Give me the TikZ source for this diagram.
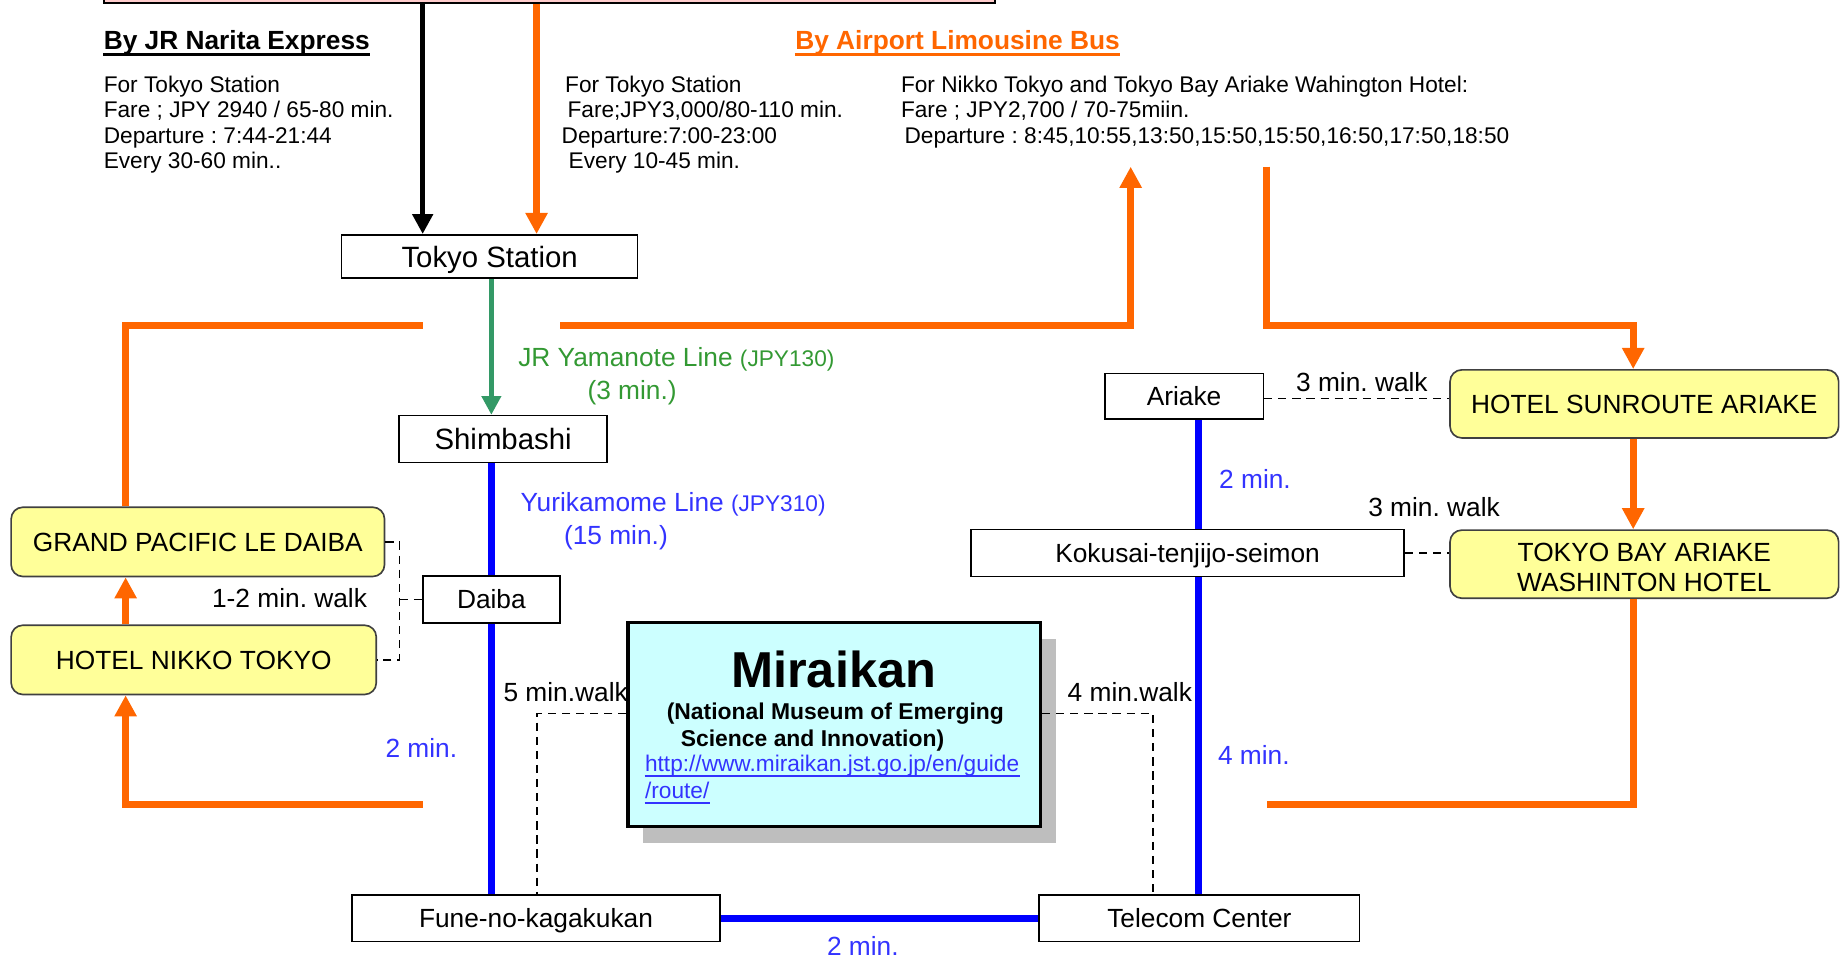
\documentclass[tikz,border=0pt]{standalone}
\usepackage{fontspec}
\setmainfont{Liberation Sans}
\usetikzlibrary{arrows.meta,shadows}
\definecolor{orng}{RGB}{255,102,0}
\definecolor{pinkfill}{RGB}{255,204,204}
\definecolor{hotelfill}{RGB}{255,255,153}
\definecolor{cyanfill}{RGB}{204,255,255}
\definecolor{jrgreen}{RGB}{51,153,102}
\definecolor{jrtext}{RGB}{51,153,51}
\definecolor{ublue}{RGB}{0,0,255}
\definecolor{utext}{RGB}{51,51,255}
\definecolor{shadowgray}{RGB}{190,190,190}
\newcommand{\myfA}{\fontsize{11.2}{13}\selectfont}
\newcommand{\myfB}{\fontsize{9.65}{10.9}\selectfont}
\newcommand{\myfC}{\fontsize{12.5}{14}\selectfont}
\frenchspacing
\begin{document}
\frenchspacing
\begin{tikzpicture}[x=0.5pt,y=-0.5pt,
  box/.style={draw, line width=0.7pt, fill=white, inner sep=0pt, font=\myfA, text height=8pt, text depth=0pt},
  hotel/.style={draw=black!75, line width=0.7pt, fill=hotelfill, rounded corners=5pt, inner sep=0pt, font=\myfA},
  orngline/.style={draw=orng, line width=3pt, line join=miter},
  orngarrow/.style={orngline, -{Triangle[width=9pt,length=9pt]}},
  railblue/.style={draw=ublue, line width=3pt},
  walk/.style={draw, dash pattern=on 3.5pt off 2.5pt, line width=0.6pt},
  lbl/.style={inner sep=0pt, font=\myfA},
  body/.style={inner sep=0pt, font=\myfB, align=left, anchor=north west},
]
\useasboundingbox (0,0) rectangle (1568,816);

% ---------- nodes ----------
\node[draw, line width=0.7pt, fill=pinkfill, minimum width=379.5pt, minimum height=30pt, anchor=south west, inner sep=0pt] (airport) at (88,3) {};
\node[box, font=\myfC, text height=9pt, minimum width=126pt, minimum height=18.5pt] (tokyo) at (417,218.5) {Tokyo Station};
\node[box, font=\myfC, text height=9pt, minimum width=88.5pt, minimum height=20pt] (shimbashi) at (428.5,374) {Shimbashi};
\node[box, minimum width=58.5pt, minimum height=20pt] (daiba) at (418.5,510.5) {Daiba};
\node[hotel, minimum width=159pt, minimum height=29.5pt, text height=8pt, text depth=0pt] (grand) at (168.5,461.5) {GRAND PACIFIC LE DAIBA};
\node[hotel, minimum width=155.5pt, minimum height=29.5pt, text height=8pt, text depth=0pt] (nikko) at (165,562) {HOTEL NIKKO TOKYO};
\node[box, minimum width=156.5pt, minimum height=20pt] (fune) at (456.5,782) {Fune-no-kagakukan};
\node[box, minimum width=136.5pt, minimum height=20pt] (telecom) at (1021.5,782) {Telecom Center};
\node[box, minimum width=67.5pt, minimum height=19.5pt] (ariake) at (1008.5,337.5) {Ariake};
\node[box, minimum width=184.5pt, minimum height=20pt] (kokusai) at (1011.5,471) {Kokusai-tenjijo-seimon};
\node[hotel, minimum width=165.5pt, minimum height=29pt, text height=8pt, text depth=0pt] (sunroute) at (1400.5,344) {HOTEL SUNROUTE ARIAKE};
\node[hotel, minimum width=165.5pt, minimum height=29pt, align=center, font=\fontsize{11.2}{12.8}\selectfont] (tokyobay) at (1400.5,480.5) {\rule{0pt}{11pt}TOKYO BAY ARIAKE\\WASHINTON HOTEL};
\node[draw, line width=1.5pt, fill=cyanfill, minimum width=175.5pt, minimum height=87pt, inner sep=0pt,
  drop shadow={shadow xshift=6.5pt, shadow yshift=-7pt, fill=shadowgray, opacity=1}] (miraikan) at (710.5,617) {};

% Miraikan texts
\node[anchor=base, inner sep=0pt, font=\fontsize{21.5}{24}\selectfont\bfseries] (mtitle) at (710,585.5) {Miraikan};
\node[anchor=base west, inner sep=0pt, font=\fontsize{9.75}{11}\selectfont\bfseries] (msubA) at (567.5,613) {(National Museum of Emerging};
\node[anchor=base west, inner sep=0pt, font=\fontsize{9.75}{11}\selectfont\bfseries] (msubB) at (579.5,636) {Science and Innovation)};
\node[anchor=base west, inner sep=0pt, font=\myfB, text=utext] (murlA) at (549,657) {http://www.miraikan.jst.go.jp/en/guide};
\node[anchor=base west, inner sep=0pt, font=\myfB, text=utext] (murlB) at (549,680) {/route/};
\draw[utext, line width=0.6pt] ([yshift=-2pt]murlA.base west) -- ([yshift=-2pt]murlA.base east);
\draw[utext, line width=0.6pt] ([yshift=-2pt]murlB.base west) -- ([yshift=-2pt]murlB.base east);

% ---------- helper coordinates ----------
\coordinate (cxb) at (360,0);
\coordinate (cxo) at (457,0);
\coordinate (cxg) at (418.5,0);
\coordinate (cxr) at (1021,0);
\coordinate (cxh) at (107,0);
\coordinate (cxd) at (340.5,0);
\coordinate (cxf) at (457.5,0);
\coordinate (cxt) at (982,0);
\coordinate (cxs) at (1391,0);
\coordinate (cym) at (0,607.5);
\coordinate (cya) at (0,339.3);
\coordinate (oTL) at (360,277);
\coordinate (oTR) at (477,277);
\coordinate (oUp) at (963,142);
\coordinate (oDn) at (1079,142);
\coordinate (oBL) at (360,685);
\coordinate (oBR) at (1079,685);

% ---------- connectors ----------
\draw[black, line width=2.2pt, -{Triangle[width=8.5pt,length=8.5pt]}] (airport.south -| cxb) -- (tokyo.north -| cxb);
\draw[orngarrow] (airport.south -| cxo) -- (tokyo.north -| cxo);
\draw[jrgreen, line width=2pt, -{Triangle[width=8pt,length=8pt]}] (tokyo.south -| cxg) -- (shimbashi.north -| cxg);
\draw[railblue] (shimbashi.south -| cxg) -- (daiba.north -| cxg);
\draw[railblue] (daiba.south -| cxg) -- (fune.north -| cxg);
\draw[railblue] (fune.east) -- (telecom.west);
\draw[railblue] (ariake.south -| cxr) -- (kokusai.north -| cxr);
\draw[railblue] (kokusai.south -| cxr) -- (telecom.north -| cxr);

\draw[walk] (grand.east) -- (grand.east -| cxd) -- (nikko.east -| cxd) -- (nikko.east);
\draw[walk] (daiba.west -| cxd) -- (daiba.west);
\draw[walk] (miraikan.west |- cym) -- (cxf |- cym) -- (fune.north -| cxf);
\draw[walk] (miraikan.east |- cym) -- (cxt |- cym) -- (telecom.north -| cxt);
\draw[walk] (ariake.east |- cya) -- (sunroute.west |- cya);
\draw[walk] (kokusai.east) -- (tokyobay.west |- kokusai.east);

\draw[orngarrow] (nikko.north -| cxh) -- (grand.south -| cxh);
\draw[orngarrow] (oBL) -- (oBL -| cxh) -- (nikko.south -| cxh);
\draw[orngline] (grand.north -| cxh) -- (oTL -| cxh) -- (oTL);
\draw[orngarrow] (oTR) -- (oTR -| oUp) -- (oUp);
\draw[orngarrow] (oDn) -- (oDn |- oTR) -- (oTR -| cxs) -- (sunroute.north -| cxs);
\draw[orngarrow] (sunroute.south -| cxs) -- (tokyobay.north -| cxs);
\draw[orngline] (tokyobay.south -| cxs) -- (oBR -| cxs) -- (oBR);

% ---------- titles and info ----------
\node[lbl, anchor=base west, font=\myfA\bfseries] (jrtitle) at (88,42) {By JR Narita Express};
\draw[line width=1.1pt] ([yshift=-2.1pt]jrtitle.base west) -- ([yshift=-2.1pt]jrtitle.base east);
\node[lbl, anchor=base west, font=\myfA\bfseries, text=orng] (bustitle) at (677,42) {By Airport Limousine Bus};
\draw[orng, line width=1.1pt] ([yshift=-2.1pt]bustitle.base west) -- ([yshift=-2.1pt]bustitle.base east);

\node[body] (jrinfo) at (88,64) {For Tokyo Station\\Fare ; JPY 2940 / 65-80 min.\\Departure : 7:44-21:44\\Every 30-60 min..};
\node[body] (businfo) at (478,64) {\hspace*{1.5pt}For Tokyo Station\\\hspace*{2.5pt}Fare;JPY3,000/80-110 min.\\Departure:7:00-23:00\\\hspace*{3pt}Every 10-45 min.};
\node[body] (hotelinfo) at (767,64) {For Nikko Tokyo and Tokyo Bay Ariake Wahington Hotel:\\Fare ; JPY2,700 / 70-75miin.\\\hspace*{1.5pt}Departure : 8:45,10:55,13:50,15:50,15:50,16:50,17:50,18:50};

% ---------- line labels ----------
\node[lbl, anchor=base west, text=jrtext] (yamanote) at (441,312) {JR Yamanote Line {\myfB(JPY130)}};
\node[lbl, anchor=base west, text=jrtext] (yamamin) at (500,340) {(3 min.)};
\node[lbl, anchor=base west, text=utext] (yurika) at (443,435.5) {Yurikamome Line {\myfB(JPY310)}};
\node[lbl, anchor=base west, text=utext] (yurimin) at (480,464) {(15 min.)};

\node[lbl, anchor=base east] (wA) at (313,517) {1-2 min. walk};
\node[lbl, anchor=base west, text=utext] (mA) at (328,645) {2 min.};
\node[lbl, anchor=base west] (wB) at (428.5,597.5) {5 min.walk};
\node[lbl, anchor=base west] (wC) at (909,597.5) {4 min.walk};
\node[lbl, anchor=base west, text=utext] (mB) at (704,813.5) {2 min.};
\node[lbl, anchor=base west] (wD) at (1103.5,333.5) {3 min. walk};
\node[lbl, anchor=base west, text=utext] (mC) at (1038,416) {2 min.};
\node[lbl, anchor=base west] (wE) at (1165,440) {3 min. walk};
\node[lbl, anchor=base west, text=utext] (mD) at (1037,651) {4 min.};
\end{tikzpicture}
\end{document}
